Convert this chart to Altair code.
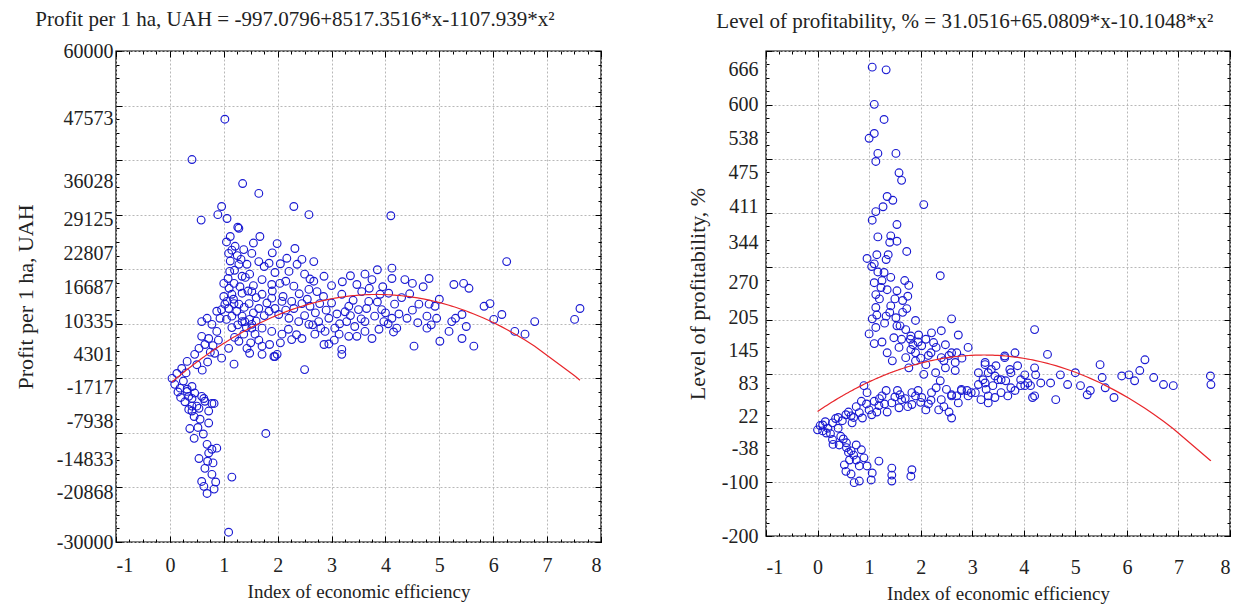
import altair as alt
import pandas as pd

FONT = "Liberation Serif, Times New Roman, Times, serif"
BLUE = "#1a1ad2"
RED = "#e8262b"
TEXT = "#222222"

LEFT_TITLE = "Profit per 1 ha, UAH = -997.0796+8517.3516*x-1107.939*x²"
RIGHT_TITLE = "Level of profitability, % = 31.0516+65.0809*x-10.1048*x²"
X_TITLE = "Index of economic efficiency"
LEFT_Y_TITLE = "Profit per 1 ha, UAH"
RIGHT_Y_TITLE = "Level of profitability, %"

# coefficients of the fitted curves printed in the titles (c0, c1, c2)
LEFT_COEF = [-997.0796, 8517.3516, -1107.939]
RIGHT_COEF = [31.0516, 65.0809, -10.1048]

X_MAJOR = [-1, 0, 1, 2, 3, 4, 5, 6, 7, 8]
X_MINOR = [v / 4 for v in range(-4, 33)]

LEFT_Y_LABELS = [60000, 47573, 36028, 29125, 22807, 16687, 10335, 4301,
                 -1717, -7938, -14833, -20868, -30000]
LEFT_Y_GRID = [-30000, -20000, -10000, 0, 10000, 20000, 30000, 40000, 50000, 60000]
LEFT_Y_MINOR = list(range(-30000, 60001, 2500))

RIGHT_Y_LABELS = [666, 600, 538, 475, 411, 344, 270, 205, 145, 83, 22, -38, -100, -200]
RIGHT_Y_GRID = [-200, -100, 0, 100, 200, 300, 400, 500, 600, 700]
RIGHT_Y_MINOR = list(range(-200, 701, 25))

# Profit per 1 ha (x = index of economic efficiency, y = UAH)
LEFT_TOP = [(1.02, 47500), (0.41, 40100), (1.35, 35700), (1.65, 33900), (0.96, 31500),
            (2.30, 31500), (2.58, 30000), (0.58, 29000), (0.89, 30000), (1.06, 29300),
            (4.10, 29800), (1.26, 27700), (1.67, 26000)]
LEFT_DENSE = [(1.28, 27500), (1.09, 22900), (1.21, 24200), (1.37, 23600), (1.52, 22900),
              (1.99, 24700), (2.32, 23800), (2.17, 22000), (2.36, 20900), (2.67, 21400),
              (2.86, 18700), (2.67, 17800), (2.50, 19100), (2.21, 19600), (1.84, 21100),
              (1.65, 21400), (1.43, 20900), (1.28, 20900), (1.11, 19600), (1.00, 17400),
              (1.19, 17400), (1.34, 18700), (1.48, 19100), (1.71, 18100), (1.89, 17200),
              (2.04, 17400), (2.30, 16900), (2.58, 16300), (2.73, 15900), (0.96, 12600),
              (1.15, 15400), (1.34, 15600), (1.52, 15900), (1.71, 15400), (1.89, 14700),
              (2.08, 14100), (2.26, 14100), (2.45, 13700), (2.60, 13200), (2.78, 13700),
              (1.06, 14100), (1.28, 13600), (1.47, 13700), (1.65, 12800), (1.84, 12300),
              (2.02, 11700), (2.21, 11000), (2.39, 10400), (2.58, 9900), (2.76, 10400),
              (2.95, 11000), (1.15, 11400), (1.34, 10400), (1.52, 9900), (1.71, 9200),
              (1.89, 8600), (2.08, 8100), (2.26, 7100), (2.45, 7300), (2.69, 8100),
              (2.88, 8600), (3.06, 9200), (2.86, 6200), (3.19, 5300), (3.19, 4400),
              (2.50, 1600)]
LEFT_BAND = [(0.04, 0), (0.13, 900), (0.22, 1800), (0.09, -1100), (0.19, -1800),
             (0.32, -2000), (0.41, -1500), (0.46, -2700), (0.35, -3300), (0.59, -3300),
             (0.65, -4200), (0.82, -4600), (0.41, -5100), (0.54, -5500), (0.32, 3100),
             (0.46, 4400), (0.54, 5500), (0.65, 6200), (0.59, 7700), (0.72, 7300),
             (0.87, 8600), (0.78, 9900), (0.59, 10400), (0.69, 11000), (0.87, 12300),
             (0.93, 11000), (1.02, 13600), (1.09, 12800), (1.19, 13700), (1.24, 12300),
             (1.34, 11400), (1.39, 10400), (1.48, 10800), (1.52, 9200), (1.58, 8100),
             (1.37, 8100), (1.43, 5500), (1.48, 4600), (1.71, 5900), (1.71, 4400),
             (1.93, 4000), (1.99, 4400), (1.19, 2600), (0.96, 3700), (0.83, 4600),
             (1.09, 5500), (1.28, 6800)]
LEFT_TAIL = [(0.32, -2400), (0.41, -3700), (0.35, -5700), (0.50, -5100), (0.63, -3700),
             (0.78, -4600), (0.72, -6000), (0.37, -9200), (0.45, -11000), (0.72, -8200),
             (0.56, -7500), (0.41, -6000), (0.54, -14700), (0.69, -12100), (0.78, -13000),
             (0.87, -12800), (0.72, -13700), (0.65, -16500), (0.78, -17600), (0.59, -18900),
             (0.69, -21100), (0.82, -20300), (1.15, -18100), (1.09, -28200), (1.78, -10100),
             (1.95, 4000)]
LEFT_MID = [(3.19, 15400), (3.32, 13200), (3.47, 17200), (3.62, 19100), (3.75, 18100),
            (3.56, 15900), (3.69, 14100), (3.90, 15400), (4.12, 20200), (4.12, 18300),
            (4.36, 18100), (4.06, 15600), (4.17, 13600), (3.93, 12600), (3.80, 11400),
            (3.62, 10400), (3.43, 9500), (3.32, 7700), (3.62, 8600), (3.75, 7300),
            (3.97, 10400), (4.12, 11000), (4.21, 9200), (4.40, 11000), (4.62, 13600),
            (4.81, 13600), (4.92, 13200), (4.81, 18300), (4.77, 11400), (4.77, 9200),
            (5.01, 6800), (4.53, 5900), (3.88, 9000), (3.47, 7700), (3.14, 8100),
            (3.28, 10400)]
LEFT_RIGHT = [(5.27, 17200), (5.45, 17400), (5.23, 10400), (5.18, 8600), (5.42, 11700),
              (5.42, 7300), (5.64, 5900), (5.83, 13200), (5.94, 13700), (6.01, 10800),
              (6.16, 11700), (6.25, 21400), (6.40, 8600), (6.59, 8100), (6.77, 10400),
              (7.51, 10800), (7.61, 12800)]
LEFT_MORE = [(1.05, 25000), (1.15, 23500), (1.25, 22500), (1.32, 21800), (1.12, 21500),
             (1.20, 19800), (1.40, 18500), (1.55, 17000), (1.10, 16500), (1.30, 16800),
             (1.45, 16000), (1.60, 14800), (1.00, 15000), (1.08, 18300), (1.18, 14500),
             (1.38, 13000), (1.55, 12000), (1.26, 9800), (1.05, 10800), (1.42, 9300),
             (1.60, 10500), (1.75, 11500), (1.80, 13800), (1.95, 12800), (1.90, 16000),
             (2.10, 15000), (2.15, 12500), (2.30, 12800), (2.40, 15500), (2.50, 11500),
             (2.55, 14500), (2.70, 12000), (2.80, 9200), (2.65, 9800), (2.90, 12500),
             (3.00, 13800), (3.10, 11800), (3.05, 7000), (2.95, 6300), (3.15, 10000),
             (3.25, 12200), (3.35, 11500), (3.40, 14300), (3.50, 12600), (3.55, 10900),
             (3.65, 12800), (3.70, 16500), (3.85, 14000), (3.95, 16800), (4.00, 12000),
             (4.05, 10000), (4.15, 8500), (4.25, 11800), (4.30, 14800), (4.45, 15500),
             (4.50, 12500), (4.60, 10200), (4.70, 16800), (4.85, 9800), (4.95, 11000),
             (5.00, 14500), (5.30, 11000), (5.50, 9500), (5.55, 16500), (2.20, 9000),
             (2.35, 8000), (2.05, 6500), (1.85, 6200), (1.65, 7000), (1.50, 6500),
             (1.20, 7500), (1.15, 9300), (0.90, 7000), (0.80, 6000), (0.75, 4800),
             (0.70, 3000), (0.60, 1500), (0.50, 2500), (0.30, 1000), (0.25, -500),
             (0.15, -2500), (0.20, -3500), (0.28, -4300), (0.45, -7000), (0.52, -9000),
             (0.62, -10200), (0.80, -15500), (0.70, -15200), (0.85, -19000), (0.63, -19800),
             (2.45, 21800), (2.05, 21000), (1.90, 23000), (1.55, 24800), (1.12, 26000),
             (3.20, 17700), (3.35, 18800), (3.85, 19900), (4.50, 17400), (3.00, 17000),
             (2.85, 15000), (2.60, 18200), (2.15, 17800), (1.95, 19400), (1.75, 20500)]

# Level of profitability, %
RIGHT_COLUMN = [(1.06, 670), (1.33, 665), (1.10, 601), (1.29, 573), (1.10, 547), (1.00, 538),
                (1.17, 510), (1.52, 510), (1.13, 495), (1.58, 474), (1.63, 460), (1.35, 430),
                (1.46, 423), (2.06, 415), (1.27, 411), (1.13, 402), (1.06, 386), (1.54, 378),
                (1.17, 355), (1.42, 357), (1.40, 345), (1.54, 347), (1.73, 328), (0.96, 315),
                (1.15, 322), (1.37, 322), (1.33, 313), (1.10, 305), (1.17, 290), (1.29, 289),
                (2.38, 283), (1.25, 274), (1.42, 280), (1.69, 274), (1.77, 265), (1.23, 261),
                (1.35, 257), (1.54, 255), (1.13, 248), (1.65, 237)]
RIGHT_MIDDLE = [(1.13, 224), (1.42, 227), (1.73, 222), (1.06, 203), (1.33, 208), (1.52, 205),
                (1.90, 200), (1.13, 187), (2.60, 203), (1.54, 190), (1.71, 183), (1.10, 157),
                (1.48, 168), (1.63, 165), (1.81, 171), (1.96, 173), (2.21, 177), (2.40, 181),
                (2.73, 173), (1.58, 150), (1.81, 146), (2.02, 153), (2.25, 159), (2.48, 155),
                (2.60, 140), (2.92, 150), (1.71, 131), (1.90, 125), (2.15, 135), (2.40, 131),
                (2.10, 118), (1.77, 112), (2.29, 103), (2.48, 112), (2.67, 107), (2.06, 100),
                (2.38, 88), (2.67, 122), (3.25, 122), (3.63, 131), (3.83, 140), (3.37, 109),
                (3.12, 103), (3.50, 90), (3.75, 103), (3.94, 90), (3.25, 84), (2.79, 72),
                (2.98, 66), (3.31, 60), (3.75, 75), (4.02, 79), (2.60, 60), (2.40, 53),
                (2.21, 66), (2.02, 57), (1.83, 66), (1.63, 53), (1.44, 47), (1.25, 60),
                (1.33, 70), (0.96, 66), (0.90, 79), (1.19, 42), (1.00, 34), (0.81, 29),
                (0.65, 23), (0.48, 14), (0.29, 10), (0.10, 6), (0.00, -3), (2.35, 34),
                (2.60, 19), (2.10, 34), (1.83, 44), (1.58, 38), (0.87, 19), (0.67, 10)]
RIGHT_NEG = [(0.17, -9), (0.29, -21), (0.42, -31), (0.56, -27), (0.65, -42), (0.75, -31),
             (0.85, -40), (0.62, -59), (0.75, -59), (0.90, -55), (0.52, -68), (0.81, -70),
             (0.96, -70), (1.19, -61), (1.06, -83), (1.04, -96), (0.71, -101), (0.81, -98),
             (1.44, -74), (1.44, -87), (1.44, -98), (1.83, -77), (1.81, -89), (0.56, -36)]
RIGHT_TAIL = [(4.21, 183), (4.46, 137), (3.63, 134), (4.21, 112), (4.23, 99), (4.52, 84),
              (4.71, 99), (4.85, 81), (5.00, 103), (5.10, 79), (5.23, 62), (5.29, 70),
              (4.62, 53), (4.17, 57), (5.48, 118), (5.52, 94), (5.58, 75), (5.75, 57),
              (5.90, 97), (6.04, 99), (6.15, 88), (6.25, 107), (6.35, 127), (6.52, 94),
              (6.71, 81), (6.90, 79), (7.62, 97), (7.63, 81)]
RIGHT_CLUSTER = [(3.25, 118), (3.31, 103), (3.44, 97), (3.56, 90), (3.73, 109), (3.88, 116),
                 (4.02, 99), (4.08, 84), (3.94, 79), (3.83, 70), (3.69, 60), (3.56, 66),
                 (3.44, 57), (3.31, 47), (3.17, 53), (3.06, 66), (2.92, 60), (2.79, 70),
                 (2.73, 47), (2.60, 62), (4.21, 60), (4.13, 79), (4.33, 84), (3.21, 90),
                 (3.12, 81), (3.40, 79), (3.27, 72), (3.46, 116), (3.65, 88)]
RIGHT_MORE = [(1.05, 300), (1.10, 270), (1.20, 240), (1.00, 175), (1.15, 210), (1.30, 195),
              (1.40, 215), (1.50, 240), (1.60, 190), (1.65, 215), (1.75, 245), (1.80, 165),
              (1.85, 155), (1.90, 140), (1.95, 160), (2.00, 130), (2.10, 165), (2.20, 140),
              (2.30, 150), (2.45, 125), (2.55, 135), (2.70, 140), (2.80, 130), (1.25, 160),
              (1.35, 140), (1.45, 125), (1.10, 50), (1.20, 55), (1.30, 45), (1.50, 58),
              (1.60, 62), (1.70, 55), (1.90, 60), (2.00, 48), (2.20, 52), (2.30, 75),
              (2.50, 72), (2.70, 60), (2.90, 70), (1.05, 25), (0.95, 45), (1.15, 30),
              (1.35, 30), (1.55, 70), (1.75, 40), (1.95, 70), (2.15, 45), (2.45, 40),
              (2.55, 30), (0.75, 40), (0.85, 50), (0.60, 30), (0.70, 20), (0.55, 25),
              (0.40, 20), (0.05, 5), (0.10, -5), (0.20, 0), (0.15, 12), (0.25, -10),
              (0.35, 18), (0.40, 0), (0.45, -15), (0.30, -30), (0.50, -20), (0.60, -45),
              (0.70, -50), (0.55, -80), (0.65, -85)]

LEFT_POINTS = LEFT_TOP + LEFT_DENSE + LEFT_BAND + LEFT_TAIL + LEFT_MID + LEFT_RIGHT + LEFT_MORE
RIGHT_POINTS = RIGHT_COLUMN + RIGHT_MIDDLE + RIGHT_NEG + RIGHT_TAIL + RIGHT_CLUSTER + RIGHT_MORE

PLAIN = "'' + datum.value"


def ax(**kw):
    d = dict(labels=False, ticks=False, domain=False, grid=False, title=None)
    d.update(kw)
    return alt.Axis(**d)


def panel(points, coef, title, ytitle, ydomain, ylabels, ygrid, yminor, W, H,
          xlabpad, xtitlepad, ylabpad, ytitlepad, title_offset, title_dx):
    df = pd.DataFrame(points, columns=["x", "y"])
    xsc = alt.Scale(domain=[-1, 8], nice=False, zero=False)
    ysc = alt.Scale(domain=ydomain, nice=False, zero=False)
    base = alt.Chart(df)

    pts = base.mark_point(shape="circle", size=60, strokeWidth=1.15, color=BLUE, opacity=1).encode(
        x=alt.X("x:Q", scale=xsc, axis=ax(values=X_MAJOR, labels=True, grid=True, title=X_TITLE,
                                          labelExpr=PLAIN,
                                          labelPadding=xlabpad, titlePadding=xtitlepad)),
        y=alt.Y("y:Q", scale=ysc, axis=ax(values=ylabels, labels=True, title=ytitle,
                                          labelExpr=PLAIN,
                                          labelPadding=ylabpad, titlePadding=ytitlepad,
                                          titleFontSize=22)),
    )
    expr = f"{coef[0]} + {coef[1]} * datum.x + {coef[2]} * datum.x * datum.x"
    fit = base.transform_calculate(fit=expr).mark_line(
        color=RED, strokeWidth=1.2).encode(
        x=alt.X("x:Q", scale=xsc, axis=ax(orient="top", offset=-H, values=X_MAJOR,
                                          ticks=True, tickSize=6)),
        y=alt.Y("fit:Q", scale=ysc, axis=ax(orient="left", values=ygrid, grid=True)),
        order=alt.Order("x:Q"),
    )
    inv = base.mark_point(opacity=0)
    l3 = inv.encode(
        x=alt.X("x:Q", scale=xsc, axis=ax(orient="bottom", offset=-H, values=X_MAJOR,
                                          ticks=True, tickSize=6)),
        y=alt.Y("y:Q", scale=ysc, axis=ax(orient="right", offset=-W, values=ygrid,
                                          ticks=True, tickSize=6)),
    )
    l4 = inv.encode(
        x=alt.X("x:Q", scale=xsc, axis=ax(orient="top", offset=-H, values=X_MINOR,
                                          ticks=True, tickSize=3)),
        y=alt.Y("y:Q", scale=ysc, axis=ax(orient="left", offset=-W, values=ygrid,
                                          ticks=True, tickSize=6)),
    )
    l5 = inv.encode(
        x=alt.X("x:Q", scale=xsc, axis=ax(orient="bottom", offset=-H, values=X_MINOR,
                                          ticks=True, tickSize=3)),
        y=alt.Y("y:Q", scale=ysc, axis=ax(orient="right", offset=-W, values=yminor,
                                          ticks=True, tickSize=3)),
    )
    l6 = inv.encode(
        x=alt.X("x:Q", scale=xsc, axis=None),
        y=alt.Y("y:Q", scale=ysc, axis=ax(orient="left", offset=-W, values=yminor,
                                          ticks=True, tickSize=3)),
    )
    return alt.layer(pts, fit, l3, l4, l5, l6).resolve_axis(
        x="independent", y="independent"
    ).properties(
        width=W, height=H,
        title=alt.TitleParams(title, font=FONT, fontSize=21, fontWeight="normal",
                              color=TEXT, offset=title_offset, anchor="start",
                              frame="bounds", dx=title_dx),
    )


left = panel(LEFT_POINTS, LEFT_COEF, LEFT_TITLE, LEFT_Y_TITLE, [-30000, 60000], LEFT_Y_LABELS,
             LEFT_Y_GRID, LEFT_Y_MINOR, 485, 491, 13, 7, 3, 19, 11, 21)
right = panel(RIGHT_POINTS, RIGHT_COEF, RIGHT_TITLE, RIGHT_Y_TITLE, [-200, 700], RIGHT_Y_LABELS,
              RIGHT_Y_GRID, RIGHT_Y_MINOR, 464, 485, 21, 7, 8, 12, 19, 30)

chart = alt.hconcat(left, right, spacing=82).properties(
    padding={"left": 5, "top": 0, "right": 0, "bottom": 0},
    background="white",
).configure_view(
    stroke="#000000", strokeWidth=1.4
).configure_axis(
    labelFont=FONT, titleFont=FONT, labelFontSize=20, titleFontSize=19,
    labelColor=TEXT, titleColor=TEXT, titleFontWeight="normal",
    tickColor="#000000", tickWidth=1,
    gridColor="#b8b8b8", gridDash=[2, 2], gridWidth=1,
)

chart.save("out.html", embed_options={"renderer": "svg", "actions": False})
